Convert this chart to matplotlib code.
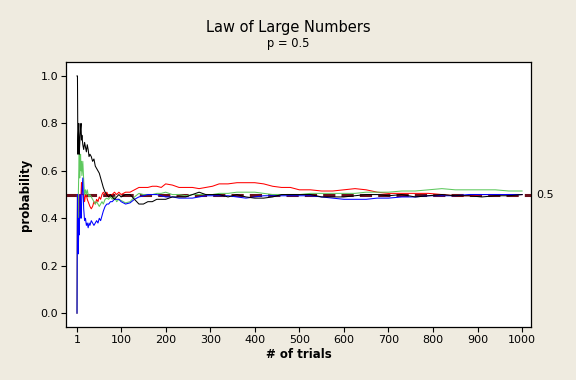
import matplotlib.pyplot as plt

trials = [1, 2, 3, 4, 5, 6, 7, 8, 9, 10, 11, 12,
          14, 16, 18, 20, 22, 24, 26, 28, 30,
          33, 36, 39, 42, 45, 48, 51, 54, 57,
          60, 64, 68, 72, 76, 80, 85, 90, 95, 100,
          110, 120, 130, 140, 150, 160, 170, 180, 190, 200,
          215, 230, 245, 260, 275, 290, 305, 320,
          340, 360, 380, 400, 420, 440, 460, 480, 500,
          525, 550, 575, 600, 625, 650, 675, 700,
          730, 760, 790, 820, 850, 880, 910, 940, 970, 1000]

black = [1.0, 1.0, 0.67, 0.75, 0.8, 0.67, 0.71, 0.75, 0.78, 0.8, 0.73, 0.75,
         0.71, 0.69, 0.72, 0.70, 0.68, 0.71, 0.69, 0.66, 0.67,
         0.66, 0.64, 0.65, 0.62, 0.61, 0.60, 0.59, 0.57, 0.55,
         0.53, 0.51, 0.50, 0.49, 0.50, 0.49, 0.48, 0.49, 0.50, 0.49,
         0.50, 0.50, 0.48, 0.46, 0.46, 0.47, 0.47, 0.48, 0.48, 0.48,
         0.49, 0.49, 0.49, 0.50, 0.51, 0.50, 0.50, 0.50,
         0.49, 0.50, 0.49, 0.485, 0.485, 0.49, 0.50, 0.50, 0.50,
         0.50, 0.49, 0.49, 0.49, 0.495, 0.50, 0.50, 0.495,
         0.50, 0.49, 0.495, 0.50, 0.495, 0.495, 0.49, 0.495, 0.495, 0.50]

red = [0.0, 0.5, 0.33, 0.5, 0.4, 0.5, 0.43, 0.5, 0.44, 0.5, 0.55, 0.5,
       0.5, 0.5, 0.47, 0.5, 0.5, 0.48, 0.47, 0.46, 0.45,
       0.44, 0.45, 0.47, 0.46, 0.48, 0.47, 0.49, 0.48, 0.50,
       0.51, 0.50, 0.51, 0.49, 0.50, 0.50, 0.51, 0.50, 0.51, 0.50,
       0.51, 0.51, 0.52, 0.53, 0.53, 0.53, 0.535, 0.535, 0.53, 0.545,
       0.54, 0.53, 0.53, 0.53, 0.525, 0.53, 0.535, 0.545,
       0.545, 0.55, 0.55, 0.55, 0.545, 0.535, 0.53, 0.53, 0.52,
       0.52, 0.515, 0.515, 0.52, 0.525, 0.52, 0.51, 0.505,
       0.505, 0.505, 0.505, 0.50, 0.495, 0.495, 0.50, 0.50, 0.50, 0.50]

green = [0.0, 0.5, 0.33, 0.5, 0.6, 0.67, 0.57, 0.63, 0.67, 0.6, 0.64, 0.58,
         0.64, 0.56, 0.50, 0.52, 0.50, 0.52, 0.50, 0.49, 0.50,
         0.49, 0.48, 0.47, 0.46, 0.47, 0.46, 0.45, 0.46, 0.47,
         0.46, 0.48, 0.485, 0.48, 0.49, 0.48, 0.49, 0.47, 0.48, 0.475,
         0.465, 0.47, 0.49, 0.505, 0.50, 0.50, 0.50, 0.505, 0.505, 0.51,
         0.50, 0.50, 0.495, 0.50, 0.50, 0.50, 0.50, 0.505,
         0.505, 0.51, 0.51, 0.51, 0.505, 0.50, 0.50, 0.50, 0.50,
         0.505, 0.505, 0.505, 0.505, 0.505, 0.51, 0.51, 0.51,
         0.515, 0.515, 0.52, 0.525, 0.52, 0.52, 0.52, 0.52, 0.515, 0.515]

blue = [0.0, 0.5, 0.33, 0.25, 0.4, 0.33, 0.43, 0.5, 0.44, 0.4, 0.45, 0.5,
        0.57, 0.44, 0.39, 0.40, 0.37, 0.38, 0.36, 0.38, 0.37,
        0.39, 0.38, 0.37, 0.38, 0.39, 0.38, 0.40, 0.39, 0.41,
        0.43, 0.45, 0.46, 0.46, 0.47, 0.47, 0.48, 0.48, 0.48, 0.47,
        0.46, 0.465, 0.48, 0.49, 0.495, 0.50, 0.50, 0.50, 0.495, 0.49,
        0.49, 0.485, 0.485, 0.485, 0.49, 0.495, 0.495, 0.495,
        0.495, 0.49, 0.485, 0.49, 0.495, 0.495, 0.495, 0.495, 0.495,
        0.495, 0.49, 0.485, 0.48, 0.48, 0.48, 0.485, 0.485,
        0.49, 0.49, 0.495, 0.495, 0.495, 0.50, 0.50, 0.50, 0.50, 0.50]

p = 0.5
xticks = [1, 100, 200, 300, 400, 500, 600, 700, 800, 900, 1000]
yticks = [0.0, 0.2, 0.4, 0.6, 0.8, 1.0]

bg = '#efebe0'
fig = plt.figure(figsize=(5.76, 3.8), dpi=100, facecolor=bg)
ax = fig.add_axes([0.1146, 0.139, 0.8074, 0.698])
ax.set_facecolor('white')

# reference line at p
ax.axhline(p, color='#6a0f1c', lw=2.2, ls=(0, (4, 2)), zorder=1)

ax.plot(trials, red, color='#ff0000', lw=0.75, zorder=2)
ax.plot(trials, green, color='#5ec85e', lw=0.75, zorder=3)
ax.plot(trials, blue, color='#0000ff', lw=0.75, zorder=4)
ax.plot(trials, black, color='black', lw=0.75, zorder=5)

ax.set_xlim(-23.7, 1020.2)
ax.set_ylim(-0.059, 1.059)
ax.set_xticks(xticks)
ax.set_yticks(yticks)
ax.set_yticklabels(['%.1f' % v for v in yticks])
ax.tick_params(direction='out', length=3.5, width=0.8, labelsize=8, pad=2)
for s in ax.spines.values():
    s.set_linewidth(0.9)

ax.set_xlabel('# of trials', fontsize=8.5, fontweight='bold', labelpad=2)
ax.set_ylabel('probability', fontsize=8.5, fontweight='bold', labelpad=6)

ax.text(1.012, p, '0.5', transform=ax.get_yaxis_transform(), fontsize=8,
        va='center', ha='left')

fig.text(0.5, 0.927, 'Law of Large Numbers', ha='center', va='center', fontsize=10.5)
fig.text(0.5, 0.885, 'p = 0.5', ha='center', va='center', fontsize=8.3)

fig.savefig('out.png', dpi=100, facecolor=bg)
